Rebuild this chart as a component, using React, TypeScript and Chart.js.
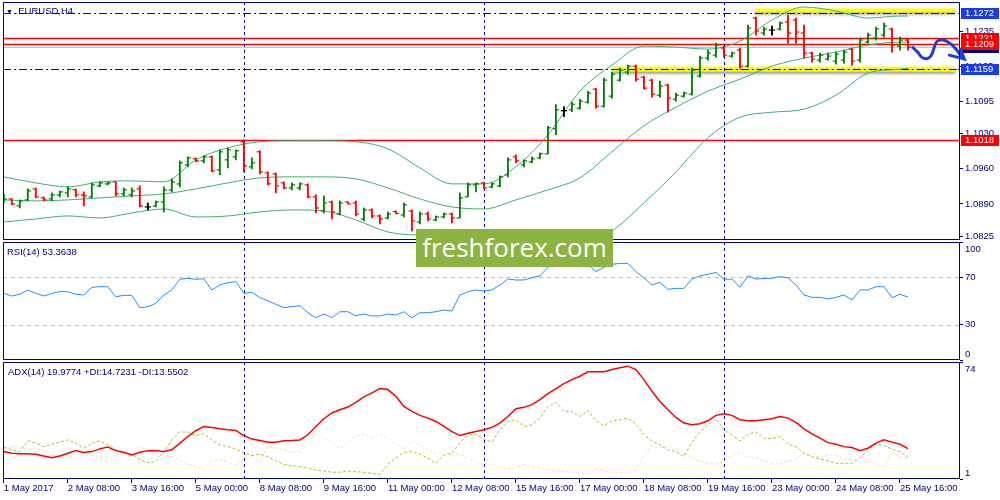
import { useEffect, useRef } from 'react';
import Chart from 'chart.js/auto';

Chart.defaults.font.family = "'Liberation Sans', Arial, sans-serif";

const NAVY = '#000080';
const GREEN = '#008000';
const RED = '#ff0000';
const BAND = '#3cb371';
const LEVEL_BLUE = '#0000ff';

// time axis (H4 bars, one label every 8 bars)
const timeTicks = ['1 May 2017', '2 May 08:00', '3 May 16:00', '5 May 00:00', '8 May 08:00', '9 May 16:00', '11 May 00:00', '12 May 08:00', '15 May 16:00', '17 May 00:00', '18 May 08:00', '19 May 16:00', '23 May 00:00', '24 May 08:00', '25 May 16:00'];
const barsPerTick = 8;
const weekStarts = [30, 60, 90];

// EURUSD H4 bars
const opens = [
  1.0894, 1.0900, 1.0886, 1.0898, 1.0920, 1.0902, 1.0900, 1.0908, 1.0912, 1.0918,
  1.0908, 1.0904, 1.0926, 1.0930, 1.0934, 1.0910, 1.0908, 1.0920, 1.0884, 1.0886,
  1.0894, 1.0918, 1.0930, 1.0968, 1.0980, 1.0976, 1.0984, 1.0958, 1.0978, 1.0984,
  1.1014, 1.0964, 1.0994, 1.0952, 1.0950, 1.0932, 1.0922, 1.0922, 1.0928, 1.0904,
  1.0876, 1.0894, 1.0870, 1.0894, 1.0892, 1.0860, 1.0878, 1.0866, 1.0862, 1.0875,
  1.0868, 1.0876, 1.0854, 1.0870, 1.0858, 1.0864, 1.0870, 1.0862, 1.0904, 1.0928,
  1.0932, 1.0924, 1.0926, 1.0948, 1.0984, 1.0968, 1.0974, 1.0982, 1.0990, 1.1040,
  1.1076, 1.1078, 1.1081, 1.1093, 1.1119, 1.1085, 1.1105, 1.1137, 1.1153, 1.1165,
  1.1143, 1.1137, 1.1107, 1.1127, 1.1099, 1.1105, 1.1109, 1.1145, 1.1181, 1.1187,
  1.1201, 1.1185, 1.1197, 1.1165, 1.1261, 1.1231, 1.1237, 1.1239, 1.1253, 1.1257,
  1.1231, 1.1191, 1.1177, 1.1179, 1.1175, 1.1177, 1.1199, 1.1177, 1.1213, 1.1221,
  1.1227, 1.1239, 1.1205, 1.1217,
];
const highs = [
  1.0910, 1.0900, 1.0898, 1.0920, 1.0922, 1.0904, 1.0912, 1.0916, 1.0924, 1.0920,
  1.0914, 1.0932, 1.0934, 1.0934, 1.0934, 1.0922, 1.0922, 1.0926, 1.0892, 1.0896,
  1.0924, 1.0940, 1.0976, 1.0984, 1.0982, 1.0986, 1.0986, 1.0998, 1.1002, 1.0998,
  1.1018, 1.0982, 1.0996, 1.0954, 1.0952, 1.0934, 1.0932, 1.0932, 1.0930, 1.0908,
  1.0906, 1.0896, 1.0896, 1.0894, 1.0896, 1.0882, 1.0880, 1.0868, 1.0874, 1.0876,
  1.0892, 1.0878, 1.0874, 1.0874, 1.0866, 1.0872, 1.0872, 1.0912, 1.0932, 1.0932,
  1.0932, 1.0932, 1.0946, 1.0982, 1.0988, 1.0978, 1.0984, 1.0992, 1.1045, 1.1088,
  1.1084, 1.1093, 1.1099, 1.1115, 1.1121, 1.1141, 1.1153, 1.1161, 1.1167, 1.1167,
  1.1145, 1.1139, 1.1135, 1.1129, 1.1111, 1.1113, 1.1161, 1.1185, 1.1197, 1.1211,
  1.1205, 1.1193, 1.1201, 1.1247, 1.1263, 1.1243, 1.1245, 1.1253, 1.1267, 1.1261,
  1.1247, 1.1193, 1.1191, 1.1191, 1.1193, 1.1197, 1.1201, 1.1221, 1.1231, 1.1243,
  1.1251, 1.1241, 1.1223, 1.1219,
];
const lows = [
  1.0892, 1.0888, 1.0882, 1.0896, 1.0902, 1.0896, 1.0896, 1.0904, 1.0904, 1.0904,
  1.0886, 1.0902, 1.0924, 1.0928, 1.0906, 1.0906, 1.0904, 1.0884, 1.0878, 1.0884,
  1.0874, 1.0914, 1.0924, 1.0964, 1.0974, 1.0972, 1.0954, 1.0948, 1.0962, 1.0978,
  1.0954, 1.0960, 1.0950, 1.0928, 1.0912, 1.0920, 1.0918, 1.0918, 1.0902, 1.0872,
  1.0872, 1.0860, 1.0868, 1.0890, 1.0866, 1.0856, 1.0862, 1.0850, 1.0860, 1.0870,
  1.0864, 1.0836, 1.0850, 1.0856, 1.0856, 1.0862, 1.0852, 1.0862, 1.0904, 1.0914,
  1.0920, 1.0922, 1.0924, 1.0944, 1.0972, 1.0964, 1.0972, 1.0980, 1.0990, 1.1028,
  1.1064, 1.1074, 1.1079, 1.1091, 1.1081, 1.1083, 1.1101, 1.1135, 1.1149, 1.1135,
  1.1119, 1.1103, 1.1103, 1.1073, 1.1095, 1.1103, 1.1107, 1.1143, 1.1177, 1.1183,
  1.1183, 1.1183, 1.1161, 1.1163, 1.1227, 1.1227, 1.1227, 1.1237, 1.1211, 1.1211,
  1.1181, 1.1173, 1.1173, 1.1177, 1.1169, 1.1171, 1.1167, 1.1173, 1.1211, 1.1217,
  1.1223, 1.1193, 1.1197, 1.1197,
];
const closes = [
  1.0900, 1.0890, 1.0896, 1.0916, 1.0904, 1.0898, 1.0908, 1.0914, 1.0920, 1.0908,
  1.0906, 1.0928, 1.0932, 1.0932, 1.0910, 1.0918, 1.0916, 1.0886, 1.0884, 1.0894,
  1.0918, 1.0934, 1.0972, 1.0982, 1.0976, 1.0984, 1.0956, 1.0994, 1.0998, 1.0996,
  1.0966, 1.0972, 1.0954, 1.0930, 1.0926, 1.0922, 1.0928, 1.0930, 1.0904, 1.0882,
  1.0892, 1.0874, 1.0892, 1.0890, 1.0870, 1.0878, 1.0866, 1.0860, 1.0870, 1.0871,
  1.0888, 1.0856, 1.0870, 1.0860, 1.0864, 1.0870, 1.0862, 1.0902, 1.0928, 1.0930,
  1.0922, 1.0930, 1.0944, 1.0978, 1.0976, 1.0976, 1.0980, 1.0990, 1.1042, 1.1078,
  1.1076, 1.1089, 1.1095, 1.1111, 1.1085, 1.1137, 1.1149, 1.1157, 1.1165, 1.1139,
  1.1121, 1.1109, 1.1125, 1.1101, 1.1107, 1.1111, 1.1157, 1.1181, 1.1191, 1.1207,
  1.1187, 1.1191, 1.1165, 1.1241, 1.1235, 1.1239, 1.1237, 1.1251, 1.1231, 1.1233,
  1.1191, 1.1179, 1.1187, 1.1185, 1.1189, 1.1193, 1.1175, 1.1217, 1.1227, 1.1239,
  1.1245, 1.1207, 1.1217, 1.1203,
];

// Bollinger bands, read every 4 bars
const bandIndex = [0, 4, 8, 12, 16, 20, 24, 28, 32, 36, 40, 44, 48, 52, 56, 60, 64, 68, 72, 76, 80, 84, 88, 92, 96, 100, 104, 108, 112, 113];
const upperBand = [1.0944, 1.0932, 1.0924, 1.0934, 1.0936, 1.0934, 1.0978, 1.1002, 1.1014, 1.1016, 1.1016, 1.1014, 1.1000, 1.0962, 1.0930, 1.0930, 1.0964, 1.1028, 1.1115, 1.1167, 1.1205, 1.1203, 1.1199, 1.1215, 1.1257, 1.1283, 1.1275, 1.1261, 1.1265, 1.1265];
const midBand = [1.0898, 1.0896, 1.0898, 1.0902, 1.0906, 1.0910, 1.0920, 1.0932, 1.0942, 1.0944, 1.0944, 1.0940, 1.0922, 1.0900, 1.0884, 1.0880, 1.0898, 1.0918, 1.0942, 1.0994, 1.1046, 1.1083, 1.1115, 1.1139, 1.1165, 1.1181, 1.1193, 1.1207, 1.1213, 1.1213];
const lowerBand = [1.0854, 1.0860, 1.0866, 1.0862, 1.0872, 1.0880, 1.0864, 1.0866, 1.0874, 1.0878, 1.0876, 1.0858, 1.0834, 1.0828, 1.0838, 1.0834, 1.0814, 1.0802, 1.0806, 1.0836, 1.0892, 1.0954, 1.1022, 1.1063, 1.1073, 1.1079, 1.1107, 1.1151, 1.1159, 1.1161];

const rsi = [
  56.5, 54.2, 55.7, 59.3, 56.5, 54.2, 56.5, 57.9, 57.9, 55.7,
  55.1, 61.6, 62.1, 62.1, 53.6, 54.8, 54.8, 44.3, 45.2, 48.0,
  55.1, 59.3, 68.4, 69.2, 68.4, 68.8, 59.3, 63.6, 65.5, 66.4,
  56.5, 57.4, 52.8, 50.3, 47.2, 44.3, 45.2, 46.0, 40.1, 35.8,
  39.0, 35.8, 40.9, 40.9, 37.5, 39.0, 37.3, 37.3, 39.0, 38.1,
  40.9, 35.8, 40.1, 40.1, 40.9, 42.4, 41.5, 55.1, 57.9, 59.3,
  58.5, 59.3, 63.6, 68.6, 67.8, 67.8, 69.7, 71.2, 78.6, 83.0,
  81.0, 83.0, 84.0, 81.0, 74.9, 78.6, 81.1, 81.9, 81.9, 74.9,
  69.7, 63.6, 65.8, 59.9, 60.7, 60.7, 68.6, 71.2, 72.6, 74.3,
  68.4, 68.6, 61.6, 71.4, 68.6, 69.2, 69.2, 70.6, 69.7, 63.6,
  55.1, 53.1, 53.1, 51.7, 53.1, 55.1, 50.8, 59.3, 59.3, 62.1,
  62.1, 52.8, 55.7, 53.4,
];

const adx = [
  18.1, 17.1, 16.7, 16.7, 16.5, 15.4, 14.3, 15.4, 17.1, 18.7,
  17.5, 18.1, 19.8, 20.9, 18.7, 17.5, 16.0, 17.7, 18.7, 18.7,
  18.1, 19.2, 23.4, 27.5, 31.1, 33.8, 33.2, 32.3, 31.7, 31.3,
  28.1, 25.9, 25.0, 24.0, 24.0, 24.8, 25.0, 25.4, 28.6, 33.8,
  38.6, 42.2, 44.2, 45.9, 48.8, 52.2, 54.7, 57.4, 56.8, 52.6,
  46.3, 43.2, 40.7, 39.0, 36.9, 33.8, 30.6, 28.1, 29.6, 30.6,
  31.7, 33.2, 35.9, 40.0, 44.9, 45.7, 47.4, 50.5, 54.3, 57.4,
  60.5, 63.0, 65.1, 67.9, 67.9, 67.9, 69.3, 70.4, 71.4, 69.3,
  63.0, 55.7, 49.4, 44.2, 39.4, 35.9, 34.8, 35.5, 37.3, 40.7,
  41.7, 40.7, 38.0, 37.3, 37.3, 38.0, 38.6, 40.0, 39.0, 36.3,
  32.3, 29.2, 26.5, 23.7, 22.7, 21.2, 20.6, 18.7, 20.2, 23.4,
  25.4, 24.0, 22.7, 20.0,
];
const plusDi = [
  20.9, 19.2, 18.1, 24.8, 23.4, 21.2, 22.7, 24.0, 25.4, 23.4,
  20.2, 23.4, 24.8, 22.3, 19.2, 18.1, 16.5, 13.3, 11.2, 11.8,
  18.1, 25.4, 30.3, 30.3, 28.1, 29.2, 25.4, 22.3, 21.2, 19.8,
  17.1, 15.6, 16.5, 15.0, 12.3, 10.2, 9.3, 8.7, 7.7, 6.6,
  6.0, 5.2, 5.2, 6.0, 5.6, 5.2, 4.6, 3.9, 10.2, 14.0,
  17.7, 18.1, 16.5, 14.0, 10.8, 16.0, 17.1, 23.4, 28.6, 28.6,
  25.9, 24.0, 31.7, 36.9, 38.0, 33.8, 34.8, 39.0, 46.3, 48.8,
  43.2, 43.2, 40.0, 43.8, 37.3, 34.2, 37.3, 38.0, 39.0, 35.3,
  28.6, 24.8, 22.3, 19.2, 18.1, 15.0, 24.0, 30.6, 34.8, 38.6,
  31.7, 28.6, 24.8, 29.0, 30.3, 26.5, 26.1, 27.5, 22.7, 21.2,
  17.1, 15.0, 13.5, 12.3, 10.8, 10.8, 10.8, 14.0, 19.2, 22.7,
  21.9, 19.6, 18.1, 14.7,
];
const minusDi = [
  19.8, 21.2, 21.2, 19.2, 20.6, 18.1, 16.0, 15.0, 16.5, 12.3,
  16.0, 16.0, 13.5, 11.8, 16.5, 18.1, 16.0, 21.2, 19.2, 17.5,
  16.5, 15.0, 12.3, 10.8, 8.7, 7.1, 12.3, 12.9, 11.8, 9.8,
  14.0, 15.0, 11.8, 21.7, 20.2, 19.2, 17.5, 17.7, 22.7, 29.2,
  26.9, 23.4, 20.2, 23.4, 27.5, 29.2, 26.5, 29.0, 26.5, 22.7,
  19.8, 24.8, 22.3, 19.2, 16.5, 19.2, 16.0, 16.5, 14.0, 11.2,
  10.8, 10.2, 8.7, 7.3, 8.1, 10.2, 8.7, 7.7, 6.6, 6.0,
  5.6, 5.2, 5.2, 4.1, 7.3, 6.0, 5.2, 5.2, 4.6, 6.6,
  16.0, 21.9, 20.2, 21.9, 20.2, 17.1, 14.3, 11.8, 10.8, 10.2,
  12.3, 16.0, 17.7, 15.0, 14.0, 12.3, 10.8, 10.2, 12.3, 13.5,
  17.7, 17.1, 14.0, 16.0, 15.6, 13.5, 13.5, 11.8, 11.5, 10.2,
  8.7, 17.1, 15.0, 13.6,
];

// right axis tick labels
const priceTicks = [1.0825, 1.0890, 1.0960, 1.1030, 1.1095, 1.1165, 1.1235];
const rsiTicks = [100, 70, 30, 0];
const adxTicks = [74, 1];

// drawn objects on the price pane
const arrowBars = [113.5, 114.2, 114.9, 115.8, 116.6, 117.4, 118.3, 119.1, 119.8];
const arrowPrices = [1.1204, 1.1193, 1.1181, 1.1184, 1.1214, 1.1217, 1.1210, 1.1197, 1.1181];

const barColor = (i: number) => (closes[i] > opens[i] ? GREEN : closes[i] < opens[i] ? RED : '#000000');
const colors = closes.map((_, i) => barColor(i));

const panePlugin = {
  id: 'mtPane',
  beforeDatasetsDraw(chart: any, _args: any, opts: any) {
    const { ctx, chartArea: a, scales } = chart;
    const x = scales.x;
    const y = scales.y;
    ctx.save();
    ctx.beginPath();
    ctx.rect(a.left, a.top, a.right - a.left, a.bottom - a.top);
    ctx.clip();

    for (const l of opts.levels || []) {
      const py = Math.round(y.getPixelForValue(l.v)) + 0.5;
      ctx.strokeStyle = l.color;
      ctx.lineWidth = l.width || 1;
      ctx.setLineDash(l.dash || []);
      ctx.beginPath();
      ctx.moveTo(a.left, py);
      ctx.lineTo(a.right, py);
      ctx.stroke();
    }
    ctx.setLineDash([]);

    for (const z of opts.zones || []) {
      const py = y.getPixelForValue(z.v);
      const x1 = x.getPixelForValue(z.from);
      const x2 = x.getPixelForValue(z.to);
      ctx.save();
      ctx.shadowColor = 'rgba(0,0,0,0.4)';
      ctx.shadowBlur = 3;
      ctx.shadowOffsetY = 2;
      ctx.fillStyle = '#ffff00';
      ctx.fillRect(x1, py - z.width / 2, x2 - x1, z.width);
      ctx.restore();
      if (z.dark) {
        ctx.strokeStyle = '#000020';
        ctx.lineWidth = 1;
        ctx.setLineDash([8, 3, 2, 3]);
        ctx.beginPath();
        ctx.moveTo(x1, Math.round(py) + 0.5);
        ctx.lineTo(a.right, Math.round(py) + 0.5);
        ctx.stroke();
        ctx.setLineDash([]);
      }
    }

    ctx.strokeStyle = NAVY;
    ctx.lineWidth = 1;
    ctx.setLineDash([3, 3]);
    for (const s of weekStarts) {
      const px = Math.round(x.getPixelForValue(s)) + 0.5;
      ctx.beginPath();
      ctx.moveTo(px, a.top);
      ctx.lineTo(px, a.bottom);
      ctx.stroke();
    }
    ctx.restore();
  },
  afterDraw(chart: any, _args: any, opts: any) {
    const { ctx, chartArea: a, scales } = chart;
    const x = scales.x;
    const y = scales.y;
    ctx.save();
    ctx.strokeStyle = NAVY;
    ctx.lineWidth = 1;
    ctx.strokeRect(Math.round(a.left) + 0.5, Math.round(a.top) + 0.5, Math.round(a.right - a.left) - 1, Math.round(a.bottom - a.top) - 1);

    ctx.font = "9.5px 'Liberation Sans', Arial, sans-serif";
    ctx.textBaseline = 'middle';
    ctx.textAlign = 'left';
    ctx.fillStyle = NAVY;
    for (const v of opts.labels || []) {
      let py = y.getPixelForValue(v);
      if (opts.clamp) py = Math.min(Math.max(py, a.top + 7), a.bottom - 6);
      ctx.fillText(opts.format ? v.toFixed(4) : String(v), a.right + 5, py);
    }

    for (const b of opts.boxes || []) {
      const py = Math.round(y.getPixelForValue(b.v));
      ctx.fillStyle = b.color;
      ctx.fillRect(a.right + 1, py - 5, 38, 11);
      ctx.fillStyle = '#ffffff';
      ctx.fillText(b.v.toFixed(4), a.right + 5, py + 0.5);
    }

    if (opts.arrowTip) {
      const tx = x.getPixelForValue(opts.arrowTip.x);
      const ty = y.getPixelForValue(opts.arrowTip.v);
      ctx.strokeStyle = '#1f3fd0';
      ctx.lineWidth = 3;
      ctx.lineCap = 'round';
      ctx.beginPath();
      ctx.moveTo(tx - 13, ty - 3);
      ctx.lineTo(tx + 2, ty + 1);
      ctx.lineTo(tx - 2, ty - 9);
      ctx.stroke();
    }
    ctx.restore();
  },
};

function paneOptions(top: number, bottom: number, yMin: number, yMax: number, yTicks: number[], showTime: boolean, pane: any) {
  return {
    responsive: false,
    animation: false as const,
    events: [],
    layout: { autoPadding: false, padding: { left: 3, right: 0, top, bottom } },
    plugins: { legend: { display: false }, tooltip: { enabled: false }, mtPane: pane },
    scales: {
      x: {
        type: 'linear' as const,
        min: -0.1,
        max: 119.5,
        offset: false,
        display: showTime,
        border: { display: false },
        grid: { drawOnChartArea: false, drawTicks: true, tickLength: 4, color: NAVY },
        afterBuildTicks: (s: any) => {
          s.ticks = timeTicks.map((_, k) => ({ value: k * barsPerTick }));
        },
        afterFit: (s: any) => {
          s.height = showTime ? 21 : 0;
        },
        ticks: {
          autoSkip: false,
          maxRotation: 0,
          align: 'start' as const,
          padding: 0,
          color: NAVY,
          font: { size: 9.5 },
          callback: (v: any) => timeTicks[Math.round(Number(v) / barsPerTick)],
        },
      },
      y: {
        type: 'linear' as const,
        position: 'right' as const,
        min: yMin,
        max: yMax,
        border: { display: false },
        grid: { drawOnChartArea: false, drawTicks: true, tickLength: 3, color: NAVY },
        afterBuildTicks: (s: any) => {
          s.ticks = yTicks.map((v) => ({ value: v }));
        },
        afterFit: (s: any) => {
          s.width = 40;
        },
        ticks: { display: false },
      },
    },
  };
}

const line = (xs: number[], ys: number[]) => xs.map((x, k) => ({ x, y: ys[k] }));
const barIdx = closes.map((_, i) => i);

export default function App() {
  const mainRef = useRef<HTMLCanvasElement | null>(null);
  const rsiRef = useRef<HTMLCanvasElement | null>(null);
  const adxRef = useRef<HTMLCanvasElement | null>(null);

  useEffect(() => {
    if (!mainRef.current || !rsiRef.current || !adxRef.current) return;

    const main = new Chart(mainRef.current, {
      type: 'line',
      data: {
        datasets: [
          {
            type: 'line',
            data: line(arrowBars, arrowPrices),
            borderColor: '#1f3fd0',
            borderWidth: 3,
            pointRadius: 0,
            tension: 0.45,
            clip: false as any,
            order: 0,
          },
          {
            type: 'bar',
            data: highs.map((h, i) => ({ x: i, y: [lows[i], h] })) as any,
            backgroundColor: colors,
            borderWidth: 0,
            barThickness: 1.2,
            grouped: false,
            order: 1,
          },
          {
            type: 'line',
            data: opens.map((o, i) => ({ x: i - 0.2, y: o })),
            showLine: false,
            pointStyle: 'line',
            pointRadius: 1.6,
            pointBorderWidth: 1.2,
            pointBorderColor: colors,
            pointBackgroundColor: colors,
            order: 1,
          },
          {
            type: 'line',
            data: closes.map((c, i) => ({ x: i + 0.2, y: c })),
            showLine: false,
            pointStyle: 'line',
            pointRadius: 1.6,
            pointBorderWidth: 1.2,
            pointBorderColor: colors,
            pointBackgroundColor: colors,
            order: 1,
          },
          ...[upperBand, midBand, lowerBand].map((band) => ({
            type: 'line' as const,
            data: line(bandIndex, band),
            borderColor: BAND,
            borderWidth: 1,
            pointRadius: 0,
            cubicInterpolationMode: 'monotone' as const,
            order: 2,
          })),
        ] as any,
      },
      options: paneOptions(2, 260, 1.0818, 1.1293, priceTicks, false, {
        levels: [
          { v: 1.1272, color: LEVEL_BLUE, dash: [8, 3, 2, 3] },
          { v: 1.1159, color: LEVEL_BLUE, dash: [8, 3, 2, 3] },
          { v: 1.1203, color: '#c8c8c8' },
          { v: 1.1221, color: RED, width: 1.5 },
          { v: 1.1209, color: RED, width: 1.5 },
          { v: 1.1018, color: RED, width: 1.5 },
        ],
        zones: [
          { from: 93.9, to: 118.9, v: 1.1276, width: 4, dark: false },
          { from: 76.1, to: 118.9, v: 1.1159, width: 5, dark: true },
        ],
        labels: priceTicks,
        format: true,
        boxes: [
          { v: 1.1203, color: NAVY },
          { v: 1.1221, color: RED },
          { v: 1.1209, color: RED },
          { v: 1.1272, color: '#1a3be8' },
          { v: 1.1159, color: '#1a3be8' },
          { v: 1.1018, color: RED },
        ],
        arrowTip: { x: arrowBars[arrowBars.length - 1], v: arrowPrices[arrowPrices.length - 1] },
      }) as any,
      plugins: [panePlugin],
    });

    const rsiChart = new Chart(rsiRef.current, {
      type: 'line',
      data: {
        datasets: [
          { data: line(barIdx, rsi), borderColor: '#1e90ff', borderWidth: 1, pointRadius: 0 },
        ],
      },
      options: paneOptions(242, 140, 0, 100, rsiTicks, false, {
        levels: [
          { v: 70, color: '#c0c0c0', dash: [4, 4] },
          { v: 30, color: '#c0c0c0', dash: [4, 4] },
        ],
        labels: rsiTicks,
        clamp: true,
      }) as any,
      plugins: [panePlugin],
    });

    const adxChart = new Chart(adxRef.current, {
      type: 'line',
      data: {
        datasets: [
          { data: line(barIdx, adx), borderColor: '#ff0000', borderWidth: 1.5, pointRadius: 0 },
          { data: line(barIdx, plusDi), borderColor: '#9acd32', borderWidth: 1, borderDash: [3, 2], pointRadius: 0 },
          { data: line(barIdx, minusDi), borderColor: '#f5deb3', borderWidth: 1, borderDash: [3, 2], pointRadius: 0 },
        ],
      },
      options: paneOptions(362, 0, 1, 74, adxTicks, true, {
        labels: adxTicks,
        clamp: true,
      }) as any,
      plugins: [panePlugin],
    });

    return () => {
      main.destroy();
      rsiChart.destroy();
      adxChart.destroy();
    };
  }, []);

  const text = { position: 'absolute' as const, font: "9.5px 'Liberation Sans', Arial, sans-serif", color: NAVY, lineHeight: '11px', whiteSpace: 'nowrap' as const };
  const canvasStyle = { position: 'absolute' as const, left: 0, top: 0 };

  return (
    <div style={{ position: 'absolute', left: 0, top: 0, width: 1000, height: 500, background: '#ffffff', overflow: 'hidden' }}>
      <canvas ref={mainRef} width={1000} height={500} style={canvasStyle}></canvas>
      <canvas ref={rsiRef} width={1000} height={500} style={canvasStyle}></canvas>
      <canvas ref={adxRef} width={1000} height={500} style={canvasStyle}></canvas>
      <div style={{ ...text, left: 6, top: 4.5 }}>
        <span style={{ fontSize: 7 }}>▼</span> .EURUSD,H4
      </div>
      <div style={{ ...text, left: 7, top: 245.5 }}>RSI(14) 53.3638</div>
      <div style={{ ...text, left: 8, top: 365.5 }}>ADX(14) 19.9774 +DI:14.7231 -DI:13.5502</div>
      <div
        style={{
          position: 'absolute',
          left: 416,
          top: 229,
          width: 197,
          height: 38,
          background: '#8db443',
          color: '#ffffff',
          font: "26px 'Open Sans', sans-serif",
          lineHeight: '36px',
          textAlign: 'center',
        }}
      >
        freshforex.com
      </div>
    </div>
  );
}
